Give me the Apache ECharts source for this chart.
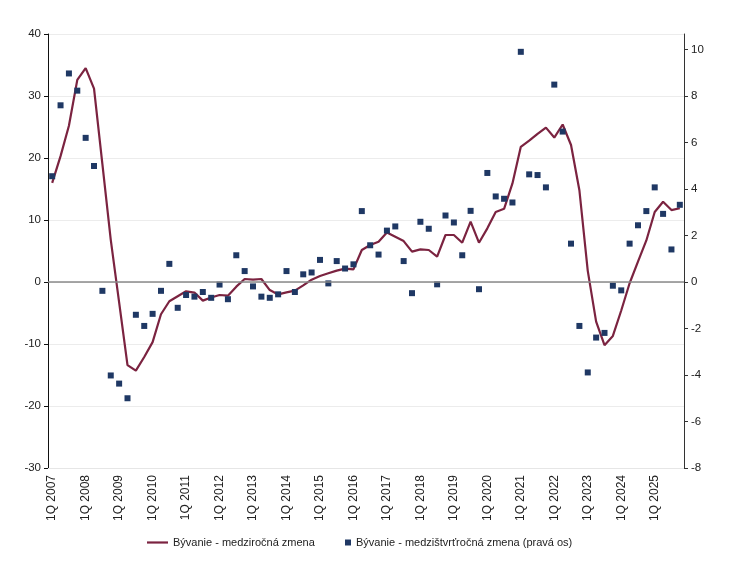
<!DOCTYPE html>
<html>
<head>
<meta charset="utf-8">
<script src="https://cdn.jsdelivr.net/npm/echarts@6/dist/echarts.min.js"></script>
<style>
html,body{margin:0;padding:0;background:#fff;}
#c{width:742px;height:561px;}
</style>
</head>
<body>
<div id="c"></div>
<script>
const years = [2007,2008,2009,2010,2011,2012,2013,2014,2015,2016,2017,2018,2019,2020,2021,2022,2023,2024,2025];
const quarters = ['1Q','2Q','3Q','4Q'];
const categories = [];
years.forEach(y => quarters.forEach(q => categories.push(q + ' ' + y)));

const yoyName = 'Bývanie - medziročná zmena';
const qoqName = 'Bývanie - medzištvrťročná zmena (pravá os)';

const yoy = [16.0,20.3,25.2,32.6,34.5,31.2,19.0,6.8,
  -3.3,-13.4,-14.3,-12.1,-9.7,-5.2,-3.1,-2.3,
  -1.5,-1.7,-3.0,-2.5,-2.1,-2.2,-0.75,0.48,
  0.38,0.48,-1.3,-2.0,-1.67,-1.4,-0.54,0.38,
  0.97,1.4,1.83,2.15,2.04,5.16,5.97,6.5,
  8.0,7.3,6.6,4.9,5.27,5.16,4.09,7.58,
  7.58,6.34,9.73,6.34,8.65,11.3,11.8,15.9,
  21.8,22.8,23.9,24.9,23.3,25.4,22.1,14.8,
  1.8,-6.4,-10.2,-8.7,-4.6,-0.2,3.3,6.7,
  11.3,12.95,11.6,11.9];

const qoq = [4.55,7.6,8.97,8.23,6.2,4.99,-0.38,-4.02,
  -4.37,-5.0,-1.41,-1.89,-1.37,-0.38,0.78,-1.11,
  -0.56,-0.63,-0.43,-0.68,-0.11,-0.74,1.15,0.47,
  -0.19,-0.63,-0.68,-0.53,0.47,-0.43,0.33,0.41,
  0.95,-0.06,0.9,0.58,0.76,3.05,1.58,1.18,
  2.21,2.39,0.9,-0.48,2.59,2.29,-0.1,2.86,
  2.56,1.15,3.06,-0.31,4.69,3.68,3.58,3.42,
  9.9,4.63,4.6,4.07,8.49,6.47,1.65,-1.89,
  -3.89,-2.39,-2.19,-0.16,-0.36,1.65,2.44,3.05,
  4.07,2.93,1.4,3.32];

const rightTicks = [-8,-6,-4,-2,0,2,4,6,8,10];

const FONT = 'Liberation Sans, Arial, sans-serif';
const chart = echarts.init(document.getElementById('c'), null, {renderer:'canvas'});
chart.setOption({
  animation: false,
  backgroundColor: '#fff',
  textStyle: {fontFamily: FONT},
  grid: {left: 48, right: 58, top: 34, bottom: 93, containLabel: false},
  legend: [
    {
      top: 537, left: 147, padding: 0,
      itemWidth: 21, itemHeight: 6,
      textStyle: {fontFamily: FONT, fontSize: 11, color: '#222'},
      data: [{name: yoyName, icon: 'path://M0,0h21v2.2h-21z'}]
    },
    {
      top: 537, left: 345, padding: 0,
      itemWidth: 6, itemHeight: 6,
      textStyle: {fontFamily: FONT, fontSize: 11, color: '#222'},
      data: [{name: qoqName, icon: 'path://M0,0h6v6h-6z'}]
    }
  ],
  xAxis: {
    type: 'category',
    data: categories,
    boundaryGap: true,
    axisLine: {show: true, onZero: false, lineStyle: {color: '#e6e6e6', width: 1}},
    axisTick: {show: false},
    axisLabel: {interval: 3, rotate: 90, fontSize: 12, color: '#222', margin: 7, fontFamily: FONT},
    splitLine: {show: false}
  },
  yAxis: [
    {
      type: 'value', min: -30, max: 40, interval: 10,
      axisLine: {show: true, lineStyle: {color: '#111', width: 1}},
      axisTick: {show: true, inside: false, length: 4, lineStyle: {color: '#111'}},
      axisLabel: {fontSize: 11.5, color: '#222', margin: 7, fontFamily: FONT},
      splitLine: {show: true, lineStyle: {color: '#ececec', width: 1}}
    },
    {
      type: 'value', min: -8, max: 32/3,
      axisLine: {show: true, lineStyle: {color: '#333', width: 1}},
      axisTick: {show: true, length: 4, customValues: rightTicks, lineStyle: {color: '#333'}},
      axisLabel: {fontSize: 11.5, color: '#222', margin: 7, customValues: rightTicks, fontFamily: FONT},
      splitLine: {show: false}
    }
  ],
  series: [
    {
      name: yoyName,
      type: 'line',
      yAxisIndex: 0,
      data: yoy,
      symbol: 'none',
      lineStyle: {color: '#7b2340', width: 2.2},
      itemStyle: {color: '#7b2340'},
      z: 3,
      markLine: {
        silent: true,
        symbol: ['none','none'],
        label: {show: false},
        lineStyle: {color: '#8a8a8a', width: 1.5, type: 'solid'},
        data: [{yAxis: 0}]
      }
    },
    {
      name: qoqName,
      type: 'scatter',
      yAxisIndex: 1,
      data: qoq,
      symbol: 'rect',
      symbolSize: 6,
      itemStyle: {color: '#1f3864', opacity: 1},
      z: 4
    }
  ]
});
</script>
</body>
</html>
